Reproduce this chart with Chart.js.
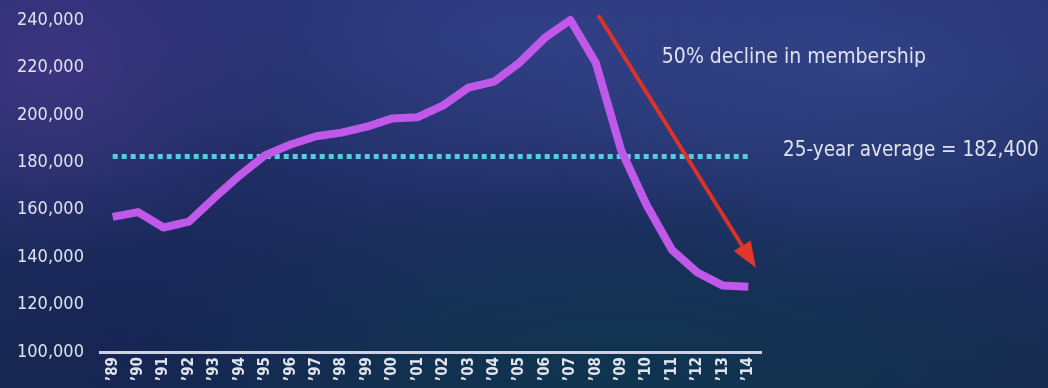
<!DOCTYPE html>
<html>
<head>
<meta charset="utf-8">
<script src="https://cdn.jsdelivr.net/npm/chart.js@4.4.1/dist/chart.umd.min.js"></script>
<style>
  html, body { margin: 0; padding: 0; }
  body {
    width: 1048px; height: 388px; overflow: hidden;
    background:
      radial-gradient(ellipse 240px 190px at 50px 70px, rgba(85,60,150,0.5), transparent),
      radial-gradient(ellipse 380px 200px at 520px 40px, rgba(65,85,165,0.45), transparent),
      radial-gradient(ellipse 360px 220px at 880px 70px, rgba(65,90,165,0.45), transparent),
      radial-gradient(ellipse 520px 190px at 620px 370px, rgba(10,60,80,0.6), transparent),
      radial-gradient(ellipse 300px 160px at 150px 330px, rgba(20,30,85,0.5), transparent),
      linear-gradient(180deg, #252e6e 0%, #1e2d62 50%, #172a4e 100%);
  }
</style>
</head>
<body>
<canvas id="chart" width="1048" height="388"></canvas>
<script>
const years = ["’89","’90","’91","’92","’93","’94","’95","’96","’97","’98","’99","’00","’01",
               "’02","’03","’04","’05","’06","’07","’08","’09","’10","’11","’12","’13","’14"];
const membership = [157000, 159000, 152500, 155000, 165000, 174500, 183000, 187500, 191000, 192500,
                    195000, 198500, 199000, 204000, 211500, 214000, 222000, 232500, 240000, 222000,
                    185000, 162000, 143000, 133500, 128000, 127500];
const averageValue = 182400;
const averageLabel = "25-year average = 182,400";
const declineLabel = "50% decline in membership";
// arrow end points in data space: [category index, value]
const arrowFrom = [19.1, 242000];
const arrowTo = [25.3, 135500];
const declineLabelAt = [21.6, 224300];

const FONT = "'Liberation Sans Narrow', 'Arial Narrow', 'DejaVu Sans Condensed', sans-serif";
const TEXT = "#dfe3ee";

const overlay = {
    id: "overlay",
    afterDatasetsDraw(chart) {
        const { ctx, chartArea } = chart;
        const x = chart.scales.x, y = chart.scales.y;

        // red arrow
        const x0 = x.getPixelForValue(arrowFrom[0]), y0 = y.getPixelForValue(arrowFrom[1]);
        const x1 = x.getPixelForValue(arrowTo[0]), y1 = y.getPixelForValue(arrowTo[1]);
        const ang = Math.atan2(y1 - y0, x1 - x0);
        const head = 26, half = 10;
        const bx = x1 - head * Math.cos(ang), by = y1 - head * Math.sin(ang);
        ctx.save();
        ctx.strokeStyle = "#db3328";
        ctx.fillStyle = "#e2362a";
        ctx.lineWidth = 4;
        ctx.beginPath();
        ctx.moveTo(x0, y0);
        ctx.lineTo(bx, by);
        ctx.stroke();
        ctx.beginPath();
        ctx.moveTo(x1, y1);
        ctx.lineTo(bx + half * Math.sin(ang), by - half * Math.cos(ang));
        ctx.lineTo(bx - half * Math.sin(ang), by + half * Math.cos(ang));
        ctx.closePath();
        ctx.fill();

        // annotations
        ctx.fillStyle = TEXT;
        ctx.font = "21px " + FONT;
        ctx.textAlign = "left";
        ctx.textBaseline = "middle";
        ctx.fillText(declineLabel, x.getPixelForValue(declineLabelAt[0]), y.getPixelForValue(declineLabelAt[1]));
        ctx.font = "20.5px " + FONT;
        ctx.fillText(averageLabel, chartArea.right + 22, y.getPixelForValue(averageValue) - 6);
        ctx.restore();
    }
};

new Chart(document.getElementById("chart"), {
    type: "line",
    data: {
        labels: years,
        datasets: [
            {
                data: membership,
                borderColor: "#c059ea",
                borderWidth: 8,
                borderJoinStyle: "round",
                pointRadius: 0,
                tension: 0,
                clip: false
            },
            {
                data: years.map(() => averageValue),
                borderColor: "#58cbdc",
                borderWidth: 5,
                borderDash: [5, 4],
                borderCapStyle: "butt",
                pointRadius: 0,
                tension: 0
            }
        ]
    },
    options: {
        responsive: false,
        animation: false,
        layout: { padding: { top: 20, right: 287, left: 17, bottom: 0 } },
        plugins: { legend: { display: false }, tooltip: { enabled: false } },
        scales: {
            x: {
                offset: true,
                grid: { display: false, drawTicks: false },
                border: { display: true, color: "#cdd1e4", width: 3 },
                ticks: {
                    color: TEXT,
                    font: { family: FONT, size: 15, weight: "bold" },
                    minRotation: 90,
                    maxRotation: 90,
                    autoSkip: false,
                    padding: 5
                },
                afterFit(scale) { scale.height = 36; }
            },
            y: {
                min: 100000,
                max: 240000,
                grid: { display: false, drawTicks: false },
                border: { display: false },
                ticks: {
                    stepSize: 20000,
                    color: TEXT,
                    font: { family: FONT, size: 18 },
                    crossAlign: "far",
                    padding: 0
                },
                afterFit(scale) { scale.width = 83; }
            }
        }
    },
    plugins: [overlay]
});
</script>
</body>
</html>
